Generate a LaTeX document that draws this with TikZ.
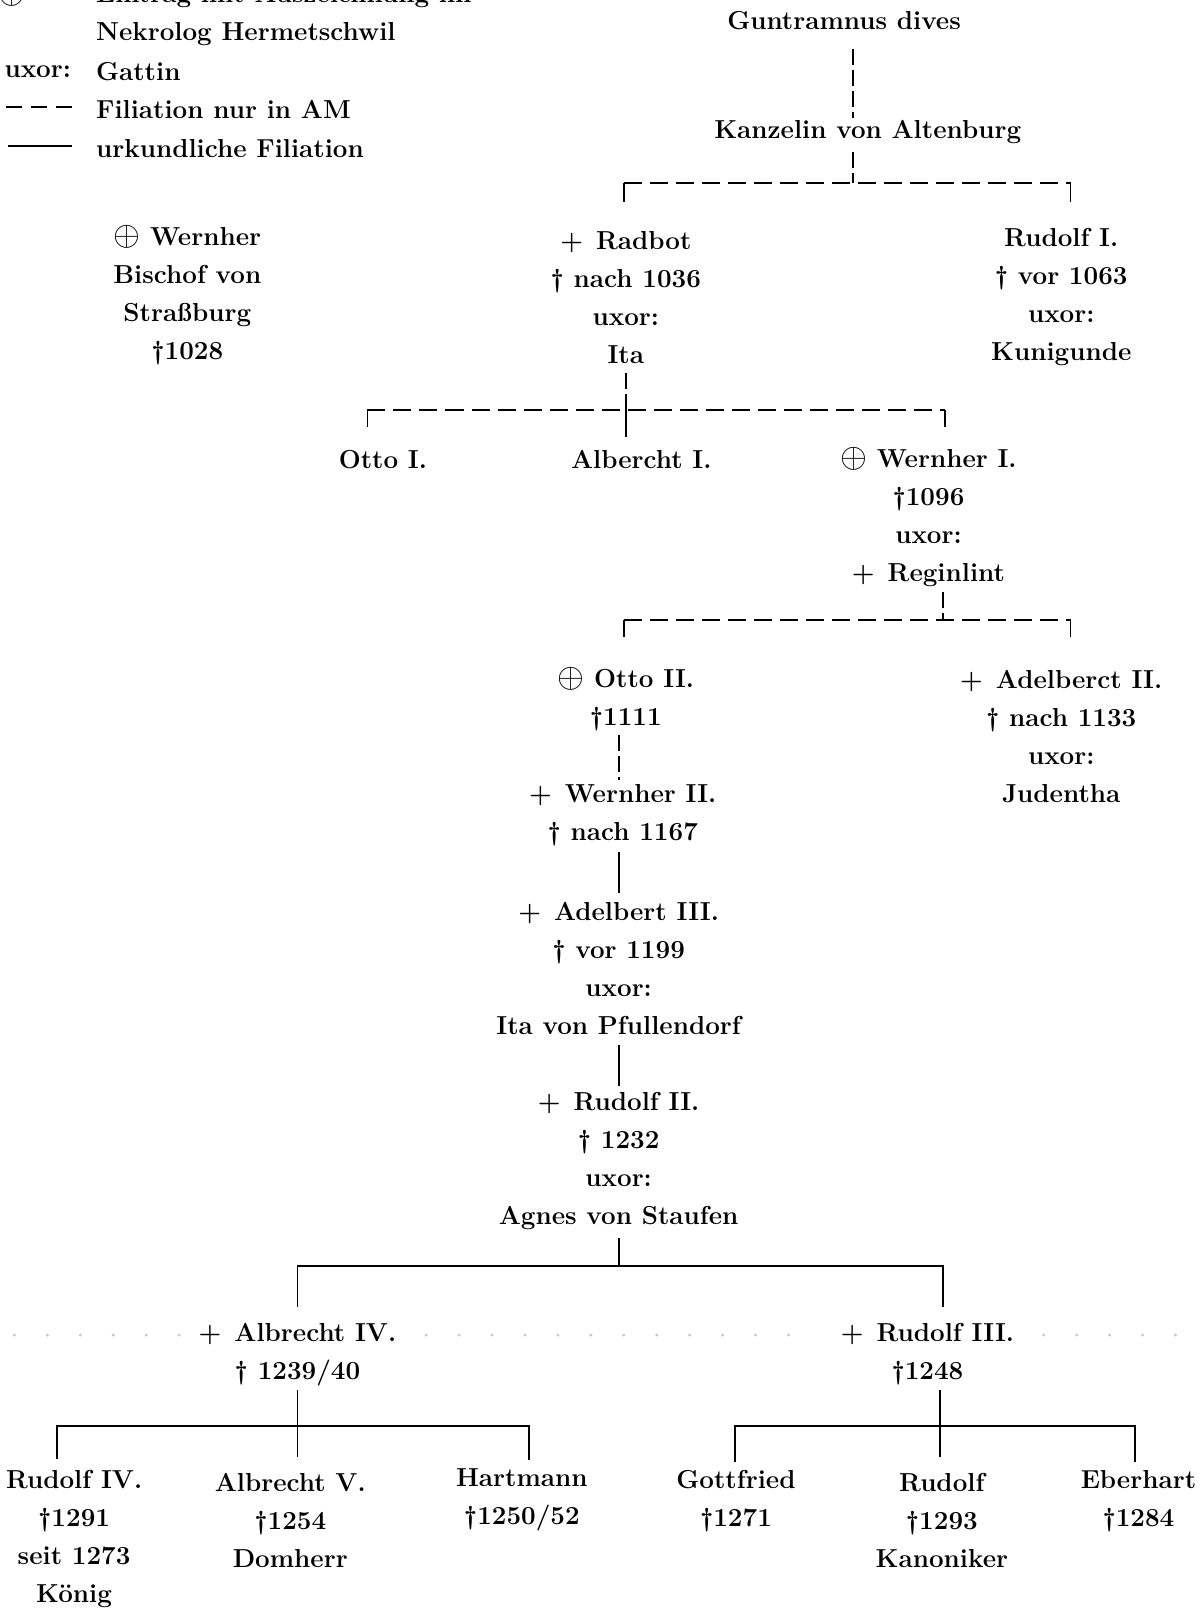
\documentclass[tikz,border=0pt]{standalone}
\newcommand{\cplus}{{\fontsize{17}{19}\selectfont$\oplus$}}
\newcommand{\pl}{+\hspace{0.5em}}
\begin{document}
\begin{tikzpicture}[x=0.51455pt,y=-0.51455pt,
  tx/.style={align=center, inner sep=0pt, font=\fontsize{13}{19}\selectfont\bfseries},
  lg/.style={tx, anchor=west, align=left},
  dh/.style={line width=0.9pt, dash pattern=on 9pt off 4pt},
  dv/.style={line width=0.9pt, dash pattern=on 8pt off 2.5pt},
  sl/.style={line width=0.9pt},
  dot/.style={fill=black!22}]
\useasboundingbox (0,0) rectangle (1167,1568);
% legend
\node[tx] (lsym) at (12,-5) {\cplus};
\node[lg] (l0) at (93,-4) {Eintrag mit Auszeichnung im};
\node[lg] (l1) at (93,33) {Nekrolog Hermetschwil};
\node[lg] (l2a) at (4,70) {uxor:};
\node[lg] (l2) at (93,70) {Gattin};
\node[lg] (l3) at (93,106) {Filiation nur in AM};
\node[lg] (l4) at (93,144) {urkundliche Filiation};
\coordinate (ld1) at (6,104); \coordinate (ld2) at (70,104);
\coordinate (ls1) at (8,142); \coordinate (ls2) at (70,142);
\draw[line width=0.8pt, dash pattern=on 8pt off 4.5pt] (ld1) -- (ld2);
\draw[line width=0.8pt] (ls1) -- (ls2);
% persons
\node[tx] (guntram) at (820,20) {Guntramnus dives};
\node[tx] (kanzelin) at (843,128) {Kanzelin von Altenburg};
\node[tx] (radbot) at (608,289) {\pl Radbot\\\textdagger\ nach 1036\\uxor:\\Ita};
\node[tx] (rudolf1) at (1031,289) {Rudolf I.\\\textdagger\ vor 1063\\uxor:\\Kunigunde};
\node[tx] (wernherB) at (182,287) {\cplus\ Wernher\\Bischof von\\Straßburg\\\textdagger1028};
\node[tx] (otto1) at (372,446) {Otto I.};
\node[tx] (albercht1) at (623,446) {Albercht I.};
\node[tx] (wernher1) at (902,502) {\cplus\ Wernher I.\\\textdagger1096\\uxor:\\\pl Reginlint};
\node[tx] (otto2) at (608,679) {\cplus\ Otto II.\\\textdagger1111};
\node[tx] (adelberct2) at (1031,716) {\pl Adelberct II.\\\textdagger\ nach 1133\\uxor:\\Judentha};
\node[tx] (wernher2) at (605,792) {\pl Wernher II.\\\textdagger\ nach 1167};
\node[tx] (adelbert3) at (601,941) {\pl Adelbert III.\\\textdagger\ vor 1199\\uxor:\\Ita von Pfullendorf};
\node[tx] (rudolf2) at (601,1128) {\pl Rudolf II.\\\textdagger\ 1232\\uxor:\\Agnes von Staufen};
\node[tx] (albrecht4) at (289,1316) {\pl Albrecht IV.\\\textdagger\ 1239/40};
\node[tx] (rudolf3) at (901,1316) {\pl Rudolf III.\\\textdagger1248};
\node[tx] (rudolf4) at (72,1495) {Rudolf IV.\\\textdagger1291\\seit 1273\\König};
\node[tx] (albrecht5) at (282,1477) {Albrecht V.\\\textdagger1254\\Domherr};
\node[tx] (hartmann) at (507,1457) {Hartmann\\\textdagger1250/52};
\node[tx] (gottfried) at (715,1458) {Gottfried\\\textdagger1271};
\node[tx] (rudolfK) at (915,1477) {Rudolf\\\textdagger1293\\Kanoniker};
\node[tx] (eberhart) at (1106,1458) {Eberhart\\\textdagger1284};
% faint dotted row
\foreach \x in {14,46,...,174} \fill[dot] (\x,1297) circle (0.8pt);
\foreach \x in {414,446,...,782} \fill[dot] (\x,1297) circle (0.8pt);
\foreach \x in {1014,1046,...,1150} \fill[dot] (\x,1297) circle (0.8pt);
% connectors
\coordinate (g1) at (829,48); \coordinate (g2) at (829,115);
\draw[dv] (g1) -- (g2);
\coordinate (k1) at (829,148); \coordinate (kj) at (829,178);
\coordinate (kl) at (606,178); \coordinate (kr) at (1040,178);
\coordinate (radT) at (606,196); \coordinate (ru1T) at (1040,196);
\draw[dv] (k1) -- (kj);
\draw[dh] (kl) -- (kr);
\draw[sl] (kl) -- (radT);
\draw[sl] (kr) -- (ru1T);
\coordinate (i1) at (608,362); \coordinate (ij) at (608,398);
\coordinate (il) at (357,398); \coordinate (ir) at (918,398);
\coordinate (o1T) at (357,415); \coordinate (a1T) at (608,425); \coordinate (w1T) at (918,415);
\draw[dv] (i1) -- (ij);
\draw[dh] (il) -- (ir);
\draw[sl] (il) -- (o1T);
\draw[sl] (ij) -- (a1T);
\draw[sl] (ir) -- (w1T);
\coordinate (r1) at (916,575); \coordinate (rj) at (916,602);
\coordinate (rl) at (606,602); \coordinate (rr) at (1040,602);
\coordinate (o2T) at (606,619); \coordinate (a2T) at (1040,619);
\draw[dv] (r1) -- (rj);
\draw[dh] (rl) -- (rr);
\draw[sl] (rl) -- (o2T);
\draw[sl] (rr) -- (a2T);
\coordinate (o2B) at (601,714); \coordinate (w2T) at (601,758);
\draw[dv] (o2B) -- (w2T);
\coordinate (w2B) at (601,828); \coordinate (a3T) at (601,868);
\draw[sl] (w2B) -- (a3T);
\coordinate (a3B) at (601,1015); \coordinate (r2T) at (601,1055);
\draw[sl] (a3B) -- (r2T);
\coordinate (r2B) at (601,1203); \coordinate (r2j) at (601,1230);
\coordinate (a4T) at (289,1270); \coordinate (r3T) at (916,1270);
\draw[sl] (r2B) -- (r2j);
\draw[sl] (a4T) |- (r2j) -| (r3T);
\coordinate (a4B) at (289,1350); \coordinate (a4j) at (289,1385);
\coordinate (r4T) at (55,1417); \coordinate (a5T) at (289,1415); \coordinate (hT) at (514,1418);
\draw[sl] (a4B) -- (a4j) -- (a5T);
\draw[sl] (r4T) |- (a4j) -| (hT);
\coordinate (r3B) at (913,1350); \coordinate (r3j) at (913,1385);
\coordinate (gT) at (714,1420); \coordinate (rkT) at (913,1415); \coordinate (eT) at (1103,1420);
\draw[sl] (r3B) -- (r3j) -- (rkT);
\draw[sl] (gT) |- (r3j) -| (eT);
\end{tikzpicture}
\end{document}
